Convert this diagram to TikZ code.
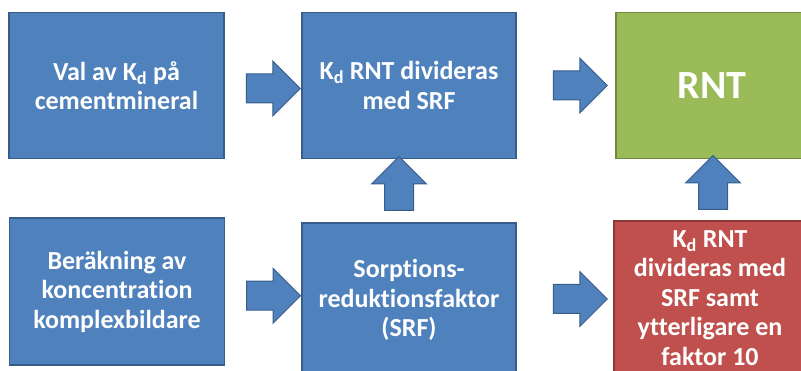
\documentclass[tikz,border=0pt]{standalone}
\usepackage{fontspec}
\setmainfont{Carlito}[Ligatures=CommonOff]
\usetikzlibrary{shapes.arrows,calc}
\definecolor{blaa}{HTML}{4F81BD}
\definecolor{blaakant}{HTML}{385D8A}
\definecolor{groen}{HTML}{9BBB59}
\definecolor{groenkant}{HTML}{71893F}
\definecolor{roed}{HTML}{C0504D}
\definecolor{roedkant}{HTML}{8C3836}
\begin{document}
\begin{tikzpicture}[x=1pt,y=-1pt,
  ruta/.style={draw=blaakant,fill=blaa,line width=1.5pt,minimum width=215pt,minimum height=146pt,
    align=center,text=white,inner sep=0pt,font=\fontsize{26}{29.5}\selectfont\bfseries},
  pil/.style={single arrow,draw=blaakant,fill=blaa,line width=1pt,minimum height=54pt,
    minimum width=54pt,single arrow head extend=13pt,inner sep=14pt}]
\useasboundingbox (0,0) rectangle (801,371);
\clip (0,0) rectangle (801,371);
\node[ruta] (val) at (116.5,85.5) {Val av K\textsubscript{d} på\\cementmineral};
\node[ruta,minimum width=214pt] (dela) at (409,85.5) {K\textsubscript{d} RNT divideras\\med SRF};
\node[ruta,draw=groenkant,fill=groen,minimum width=192pt,font=\fontsize{40}{44}\selectfont\bfseries] (rnt) at (712,85.5) {RNT};
\node[ruta,minimum height=147pt] (berakn) at (117,291.5) {Beräkning av\\koncentration\\komplexbildare};
\node[ruta,minimum width=214pt,minimum height=154pt] (srf) at (409,300) {Sorptions-\\reduktionsfaktor\\(SRF)};
\node[ruta,draw=roedkant,fill=roed,minimum width=192pt,minimum height=154pt] (faktor) at (710,298)
  {K\textsubscript{d} RNT\\divideras med\\SRF samt\\ytterligare en\\faktor 10};
\node[pil] (p1) at ($(val.east)!0.5!(dela.west)+(3,3)$) {};
\node[pil] (p2) at ($(dela.east)!0.5!(rnt.west)+(7,0)$) {};
\node[pil] (p3) at ($(berakn.east)!0.5!(srf.west)+(3,0)$) {};
\node[pil] (p4) at ($(srf.east)!0.5!(faktor.west)+(8,0)$) {};
\node[pil,shape border rotate=90] (u1) at ($(dela.south)!0.5!(srf.north)+(-10,0)$) {};
\node[pil,shape border rotate=90] (u2) at ($(rnt.south)!0.5!(faktor.north)+(2,0)$) {};
\end{tikzpicture}
\end{document}
